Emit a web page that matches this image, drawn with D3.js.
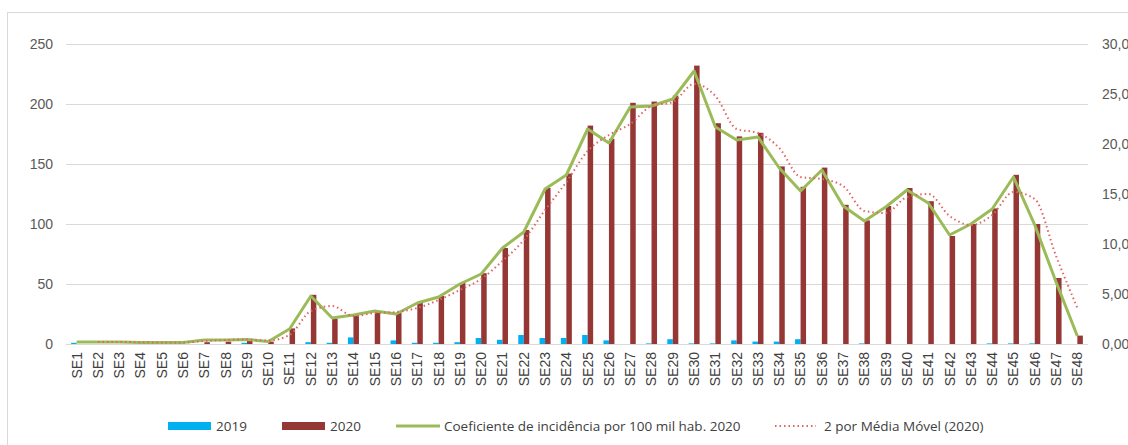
<!DOCTYPE html>
<html>
<head>
<meta charset="utf-8">
<script src="https://cdn.jsdelivr.net/npm/d3@7"></script>
<style>
  body { margin: 0; background: #fff; }
  svg { display: block; font-family: "Open Sans", "Liberation Sans", sans-serif; }
</style>
</head>
<body>
<div id="chart"></div>
<script>
// Semanas epidemiologicas
const weeks = d3.range(1, 49).map(i => "SE" + i);

// Casos 2019 (eixo esquerdo)
const cases2019 = [1, 0, 0, 0, 0, 0, 0, 0, 1, 0, 0, 1.5, 1, 5.5, 0, 3, 1, 1, 1.5, 5,
    3.5, 7.5, 5, 5, 7.5, 3, 0, 0.5, 4, 0.5, 0.5, 3, 2, 2, 4, 0, 0, 0.5, 0, 0,
    0, 0, 0, 0.5, 0.5, 0.5, 0, 0];

// Casos 2020 (eixo esquerdo)
const cases2020 = [0, 0, 0, 0, 0, 0, 1.5, 2, 2.5, 2, 13, 41, 21, 24, 27, 26, 35, 40, 51, 59,
    80, 95, 130, 142, 182, 171, 201, 202, 207, 232, 184, 173, 176, 148, 131, 147, 116, 103, 115, 130,
    119, 90, 100, 113, 141, 100, 55, 7];

// Coeficiente de incidencia por 100 mil hab. 2020 (eixo direito)
const incidence = [0.2, 0.2, 0.2, 0.15, 0.15, 0.15, 0.4, 0.4, 0.45, 0.25, 1.5, 4.8, 2.6, 2.9, 3.3, 3.0, 4.1, 4.7, 6.0, 7.0,
    9.6, 11.2, 15.5, 16.9, 21.5, 20.1, 23.7, 23.8, 24.5, 27.3, 21.7, 20.4, 20.7, 17.6, 15.3, 17.4, 13.8, 12.3, 13.7, 15.4,
    14.1, 10.9, 12.0, 13.5, 16.7, 11.9, 6.2, 0.8];

// 2 por Media Movel (2020) (eixo direito, comeca na SE2)
const movingAvg = [null, 0.2, 0.2, 0.18, 0.15, 0.15, 0.3, 0.4, 0.45, 0.35, 0.9, 3.3, 3.8, 2.8, 3.1, 3.2, 3.6, 4.4, 5.4, 6.5,
    8.3, 10.4, 13.4, 16.2, 19.3, 20.9, 22.0, 23.8, 24.2, 26.0, 24.8, 21.5, 21.1, 19.6, 16.7, 16.5, 15.8, 13.3, 13.1, 14.7,
    15.0, 12.8, 11.9, 12.9, 15.2, 14.5, 8.8, 3.6];

const leftTicks = [0, 50, 100, 150, 200, 250];
const rightTicks = [0, 5, 10, 15, 20, 25, 30];

const W = 1128, H = 445;
const plot = { left: 66, right: 1088, top: 44, bottom: 344 };

const svg = d3.select("#chart").append("svg")
    .attr("width", W).attr("height", H);

// Moldura do grafico
svg.append("rect")
    .attr("x", 7.5).attr("y", 12.5)
    .attr("width", 1140).attr("height", 460)
    .attr("fill", "none").attr("stroke", "#d9d9d9");

const x = d3.scaleBand().domain(weeks).range([plot.left, plot.right]);
const yL = d3.scaleLinear().domain([0, 250]).range([plot.bottom, plot.top]);
const yR = d3.scaleLinear().domain([0, 30]).range([plot.bottom, plot.top]);

// Grade
svg.append("g").selectAll("line").data(leftTicks).join("line")
    .attr("x1", plot.left).attr("x2", plot.right)
    .attr("y1", d => Math.round(yL(d)) + 0.5).attr("y2", d => Math.round(yL(d)) + 0.5)
    .attr("stroke", "#d9d9d9").attr("stroke-width", 1);

// Eixo esquerdo
const leftAxis = svg.append("g")
    .attr("transform", `translate(${plot.left - 13},0)`)
    .call(d3.axisLeft(yL).tickValues(leftTicks).tickSize(0).tickPadding(0));
leftAxis.select(".domain").remove();
leftAxis.selectAll("text").attr("fill", "#595959").style("font-size", "14px");

// Eixo direito
const rightAxis = svg.append("g")
    .attr("transform", `translate(1102,0)`)
    .call(d3.axisRight(yR).tickValues(rightTicks).tickSize(0).tickPadding(0)
        .tickFormat(d => d3.format(".2f")(d).replace(".", ",")));
rightAxis.select(".domain").remove();
rightAxis.selectAll("text").attr("fill", "#595959").style("font-size", "14px");

// Eixo x (rotulos verticais)
const xAxis = svg.append("g")
    .attr("transform", `translate(0,${plot.bottom})`)
    .call(d3.axisBottom(x).tickSize(0).tickPadding(0));
xAxis.select(".domain").remove();
xAxis.selectAll("text")
    .attr("fill", "#404040").style("font-size", "14px")
    .attr("transform", "rotate(-90)")
    .attr("text-anchor", "end")
    .attr("x", -8).attr("y", 0).attr("dy", "0.35em");

const barW = 5.5;
const cx = d => x(d) + x.bandwidth() / 2;

// Barras 2019
svg.append("g").selectAll("rect").data(weeks).join("rect")
    .attr("x", (d) => cx(d) - barW)
    .attr("width", barW)
    .attr("y", (d, i) => yL(cases2019[i]))
    .attr("height", (d, i) => plot.bottom - yL(cases2019[i]))
    .attr("fill", "#00b0f0");

// Barras 2020
svg.append("g").selectAll("rect").data(weeks).join("rect")
    .attr("x", (d) => cx(d))
    .attr("width", barW)
    .attr("y", (d, i) => yL(cases2020[i]))
    .attr("height", (d, i) => plot.bottom - yL(cases2020[i]))
    .attr("fill", "#953735");

// Linha do coeficiente
const lineInc = d3.line()
    .x((d, i) => cx(weeks[i]))
    .y(d => yR(d));
svg.append("path").datum(incidence)
    .attr("d", lineInc)
    .attr("fill", "none").attr("stroke", "#9bbb59")
    .attr("stroke-width", 3).attr("stroke-linejoin", "round");

// Media movel
const lineAvg = d3.line()
    .defined(d => d !== null)
    .x((d, i) => cx(weeks[i]))
    .y(d => yR(d))
    .curve(d3.curveMonotoneX);
svg.append("path").datum(movingAvg)
    .attr("d", lineAvg)
    .attr("fill", "none").attr("stroke", "#e06666")
    .attr("stroke-width", 2).attr("stroke-dasharray", "1.5,3");

// Legenda
const legend = svg.append("g").style("font-size", "13.5px").attr("fill", "#404040");
const ly = 426;
legend.append("rect").attr("x", 168).attr("y", ly - 4).attr("width", 43).attr("height", 8).attr("fill", "#00b0f0");
legend.append("text").attr("x", 216).attr("y", ly).attr("dy", "0.35em").text("2019");
legend.append("rect").attr("x", 282).attr("y", ly - 4).attr("width", 43).attr("height", 8).attr("fill", "#953735");
legend.append("text").attr("x", 330).attr("y", ly).attr("dy", "0.35em").text("2020");
legend.append("line").attr("x1", 396).attr("x2", 440).attr("y1", ly).attr("y2", ly)
    .attr("stroke", "#9bbb59").attr("stroke-width", 3);
legend.append("text").attr("x", 444).attr("y", ly).attr("dy", "0.35em")
    .text("Coeficiente de incidência por 100 mil hab. 2020");
legend.append("line").attr("x1", 775).attr("x2", 816).attr("y1", ly).attr("y2", ly)
    .attr("stroke", "#e06666").attr("stroke-width", 2).attr("stroke-dasharray", "1.5,3");
legend.append("text").attr("x", 824).attr("y", ly).attr("dy", "0.35em")
    .text("2 por Média Móvel (2020)");
</script>
</body>
</html>
